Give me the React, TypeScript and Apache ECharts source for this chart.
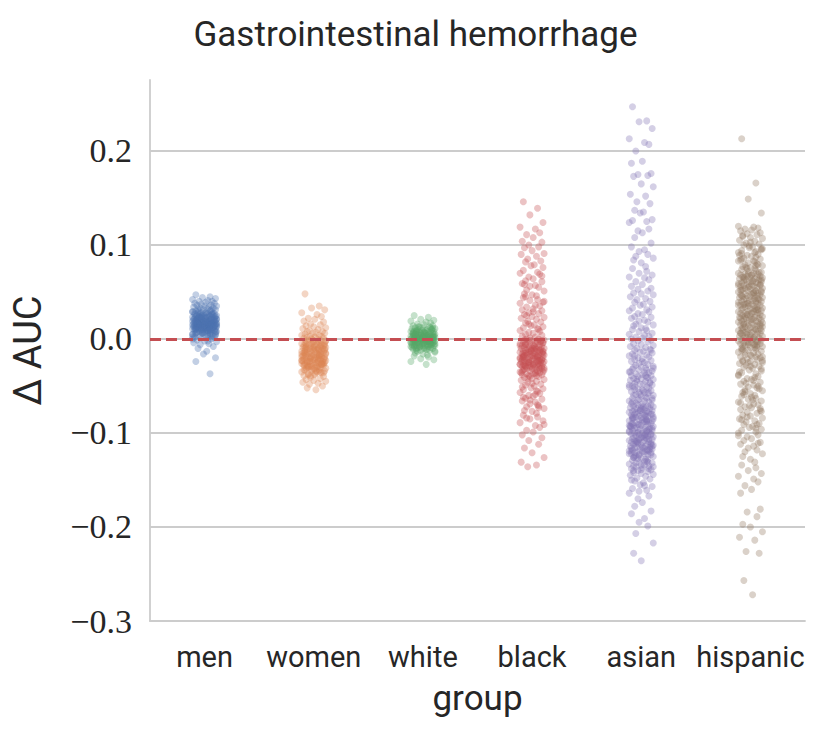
import React, { useEffect, useRef } from "react";
import * as echarts from "echarts";

const TITLE = "Gastrointestinal hemorrhage";
const CATEGORIES = ["men", "women", "white", "black", "asian", "hispanic"];
const COLORS = ["#4C72B0", "#DD8452", "#55A868", "#C44E52", "#8172B3", "#937860"];
const X_NAME = "group";
const Y_NAME = "Δ AUC";
const REFERENCE_VALUE = 0;

// ΔAUC values, in thousandths
const MEN = [47, 45, 44, 43, 42, 41, 40, 40, 39, 38, 38, 37, 36, 36, 35, 35, 34, 34, 33, 33, 32, 32, 31, 31, 30, 30, 29, 29, 28, 28, 28, 27, 27, 27, 26, 26, 26, 25, 25, 25, 25, 24, 24, 24, 24, 23, 23, 23, 23, 22, 22, 22, 22, 21, 21, 21, 21, 21, 20, 20, 20, 20, 20, 19, 19, 19, 19, 19, 18, 18, 18, 18, 18, 17, 17, 17, 17, 17, 16, 16, 16, 16, 16, 16, 15, 15, 15, 15, 15, 15, 14, 14, 14, 14, 14, 13, 13, 13, 13, 13, 12, 12, 12, 12, 12, 11, 11, 11, 11, 10, 10, 10, 10, 9, 9, 9, 9, 8, 8, 8, 7, 7, 7, 6, 6, 6, 5, 5, 4, 4, 3, 3, 2, 2, 1, 0, -1, -2, -3, -4, -5, -6, -8, -10, -13, -16, -20, -24, -37,
  29, 27, 25, 23, 22, 20, 19, 18, 17, 16, 15, 14, 13, 12, 11, 10, 9, 8, 7, 5, 3, 1,
  30, 28, 26, 24, 23, 21, 20, 18, 17, 16, 15, 14, 13, 12, 11, 10, 8, 6, 4, 2, 26, 22, 19, 16, 14, 11, 9, 6, 31, 24, 21, 17, 15, 13, 12, 10, 7, 4, 0, -2];

const WOMEN = [48, 35, 33, 31, 28, 26, 24, 22, 21, 19, 18, 16, 15, 14, 13, 12, 11, 10, 9, 8, 8, 7, 6, 6, 5, 4, 4, 3, 3, 2, 2, 1, 1, 0, 0, -1, -1, -2, -2, -3, -3, -4, -4, -5, -5, -5, -6, -6, -6, -7, -7, -7, -8, -8, -8, -9, -9, -9, -10, -10, -10, -11, -11, -11, -12, -12, -12, -13, -13, -13, -14, -14, -14, -15, -15, -15, -16, -16, -16, -17, -17, -17, -18, -18, -18, -19, -19, -19, -20, -20, -20, -21, -21, -21, -22, -22, -22, -23, -23, -23, -24, -24, -24, -25, -25, -25, -26, -26, -26, -27, -27, -27, -28, -28, -28, -29, -29, -30, -30, -31, -31, -32, -32, -33, -33, -34, -34, -35, -35, -36, -37, -38, -39, -40, -41, -42, -43, -44, -45, -46, -47, -48, -50, -52, -54,
  -4, -7, -10, -13, -16, -18, -20, -22, -24, -26, -28, -30, -32, -35, -38,
  -2, -5, -8, -11, -14, -17, -19, -21, -23, -25, -27, -29, -31, -33, -36, -39, -6, -9, -12, -15, -18, -21, -24, -27, -30, -34, -1, -11, -16, -20, -23, -26, -29, -37];

const WHITE = [25, 23, 21, 20, 19, 18, 17, 16, 15, 14, 14, 13, 13, 12, 12, 11, 11, 10, 10, 10, 9, 9, 9, 8, 8, 8, 8, 7, 7, 7, 7, 6, 6, 6, 6, 5, 5, 5, 5, 5, 4, 4, 4, 4, 4, 3, 3, 3, 3, 3, 3, 2, 2, 2, 2, 2, 2, 1, 1, 1, 1, 1, 1, 0, 0, 0, 0, 0, 0, 0, -1, -1, -1, -1, -1, -1, -2, -2, -2, -2, -2, -2, -3, -3, -3, -3, -3, -3, -4, -4, -4, -4, -4, -5, -5, -5, -5, -5, -6, -6, -6, -6, -7, -7, -7, -7, -8, -8, -8, -9, -9, -9, -10, -10, -11, -11, -12, -12, -13, -14, -15, -16, -17, -18, -19, -21, -22, -24, -27,
  12, 9, 7, 5, 3, 1, -1, -3, -5, -7, -9, -11,
  13, 10, 8, 6, 4, 2, 0, -2, -4, -6, -8, -10, -12, 11, 7, 3, -1, -5, -9, -13, 5, 1, -3, -7];

const BLACK = [146, 139, 132, 124, 119, 117, 113, 111, 108, 104, 103, 100, 98, 97, 94, 91, 90, 88, 85, 83, 82, 79, 78, 76, 73, 71, 70, 69, 66, 64, 62, 61, 59, 57, 56, 55, 52, 51, 48, 47, 46, 44, 42, 41, 39, 38, 36, 35, 34, 32, 31, 30, 28, 27, 26, 24, 23, 22, 21, 19, 18, 17, 15, 14, 13, 12, 11, 9, 8, 7, 6, 5, 4, 3, 2, 1,
  0, 0, -1, -1, -2, -2, -3, -3, -4, -4, -5, -5, -6, -6, -7, -7, -8, -8, -9, -9, -10, -10, -10, -11, -11, -11, -12, -12, -12, -13, -13, -13, -14, -14, -14, -15, -15, -15, -16, -16, -16, -17, -17, -17, -18, -18, -18, -19, -19, -19, -20, -20, -20, -21, -21, -21, -22, -22, -22, -23, -23, -23, -24, -24, -24, -25, -25, -25, -26, -26, -26, -27, -27, -27, -28, -28, -28, -29, -29, -29, -30, -30, -30, -31, -31, -32, -32, -33, -33, -34, -34, -35, -35, -36, -36, -37, -37, -38, -38, -39, -40, -41, -42, -43, -44,
  -45, -46, -48, -49, -50, -52, -53, -54, -56, -57, -58, -60, -61, -63, -64, -66, -67, -69, -71, -72, -74, -76, -77, -79, -81, -83, -85, -87, -89, -92, -94, -97, -99, -102, -105, -108, -112, -116, -121, -126, -131, -134, -136,
  -2, -5, -8, -11, -14, -17, -19, -21, -23, -25, -27, -29, -31, -34, -37, -40, 10, 25, 40, 58, -47, -55, -62, -70,
  -1, -4, -7, -9, -12, -15, -18, -20, -22, -24, -26, -28, -30, -33, -36, -39, -42, -3, -6, -10, -13, -16, -19, -23, -27, -32, 16, 29, 45, 67, -51, -59, -65, -73, -84, -91];

const ASIAN = [247, 232, 231, 224, 213, 209, 207, 200, 189, 187, 176, 175, 174, 173, 165, 162, 154, 152, 146, 144, 137, 135, 134, 127, 126, 125, 124, 117, 115, 113, 108, 102, 98, 95, 93, 90, 88, 86, 84, 81, 77, 75, 72, 70, 68, 66, 65, 63, 61, 58, 56, 54, 53, 51, 49, 48, 47, 45, 43, 42, 40, 39, 37, 36, 34, 33, 31, 30, 29, 27, 26, 24, 23, 22, 20, 19, 18, 16, 15, 14, 12, 11, 10, 9, 8, 6, 5, 4, 3, 2, 1,
  0, -1, -2, -3, -5, -6, -7, -8, -9, -10, -11, -12, -13, -14, -15, -16, -17, -18, -19, -20, -21, -22, -23, -24, -25, -26, -27, -28, -29, -30, -30, -31, -32, -33, -33, -34, -35, -36, -36, -37, -38, -39, -39, -40, -41, -42, -42, -43, -44, -45, -45, -46, -47, -48, -48, -49, -50, -51, -51, -52, -53, -54, -54, -55, -56, -57, -57, -58, -59, -60, -60, -61, -62, -63, -63, -64, -65, -66, -66, -67, -68, -69, -69,
  -70, -70, -71, -71, -72, -72, -73, -73, -74, -74, -75, -75, -76, -76, -77, -77, -78, -78, -79, -79, -80, -80, -81, -81, -82, -82, -83, -83, -84, -84, -85, -85, -86, -86, -87, -87, -88, -88, -89, -89, -90, -90, -91, -91, -92, -92, -93, -93, -94, -94, -95, -95, -96, -96, -97, -97, -98, -98, -99, -99, -100, -100, -101, -101, -102, -102, -103, -103, -104, -104, -105, -105, -106, -106, -107, -107, -108, -108, -109, -109, -110, -110, -111, -111, -112, -112, -113, -113, -114, -114, -115, -115, -116, -116, -117, -117, -118, -118, -119, -119, -120, -120, -121, -121, -122, -122, -123, -123, -124, -125, -126, -127, -128, -129, -130, -131, -132, -133, -134, -135, -136, -137, -138, -139, -140, -141, -142, -143, -144, -145,
  -146, -148, -149, -151, -153, -155, -157, -159, -161, -164, -167, -170, -174, -178, -183, -186, -191, -195, -199, -207, -217, -228, -236,
  -79, -83, -87, -91, -95, -99, -103, -107, -111, -115, -119, -123, -127, -131, -135, -139, -85, -93, -101, -109, -117, -125,
  -72, -76, -80, -84, -88, -92, -96, -100, -104, -108, -112, -116, -120, -124, -128, -132, -136, -140, -74, -82, -90, -98, -106, -114, -122, -130, -138, -78, -86, -94, -102, -110, -118, -126, -134,
  -31, -35, -39, -43, -47, -51, -55, -59, -63, -67, -41, -49, -57, -65, -24, -18, -12, -150, -156, -162];

const HISPANIC = [213, 166, 149, 134, 120, 119, 118, 117, 116, 115, 113, 112, 111, 109, 108, 107, 105, 104, 102, 101, 100, 98, 97, 96, 94, 93, 92, 90, 89, 88, 86, 85, 84, 83, 81, 80, 79, 78, 77, 76, 75, 74, 73, 72, 71,
  70, 70, 69, 69, 68, 68, 67, 67, 66, 66, 65, 65, 64, 64, 63, 63, 62, 62, 61, 61, 60, 60, 59, 59, 58, 58, 57, 57, 56, 56, 55, 55, 54, 54, 53, 53, 52, 52, 51, 51, 50, 50, 49, 49, 48, 48, 47, 47, 46, 46, 45, 45, 44, 44, 43, 43, 42, 42, 41, 41, 40, 40, 39, 39, 38, 38, 37, 37, 36, 36, 35, 35, 34, 34, 33, 33, 32, 32, 31, 31, 30, 30, 29, 29, 28, 28, 27, 27, 26, 26, 25, 25, 24, 24, 23, 23, 22, 22, 21, 21, 20, 20, 19, 19, 18, 18, 17, 17, 16, 16, 15, 15, 14, 14, 13, 13, 12, 12, 11, 11, 10, 10, 9, 9, 8, 8, 7, 7, 6, 6, 5, 5, 4, 4, 3, 3, 2, 2, 1, 1, 0, 0, -1, -1, -2, -2, -3, -3, -4, -4, -5, -5, -6, -6, -7, -7, -8, -8, -9, -9, -10, -11, -12, -13, -14, -15, -16, -17, -18, -19, -20, -21, -22, -23, -24, -25, -26, -27, -28, -29, -30,
  -31, -33, -34, -36, -37, -39, -40, -42, -43, -45, -46, -48, -49, -51, -52, -54, -55, -57, -58, -60, -61, -63, -64, -66, -67, -69, -70, -72, -73, -75, -76, -78, -79, -81, -82, -84, -85, -87, -88, -90, -91, -93, -94, -96, -97, -99, -100, -102, -104, -106, -108, -110, -112, -114, -116, -118, -120, -122, -125,
  -128, -131, -134, -137, -140, -143, -146, -149, -152, -156, -160, -164, -181, -184, -189, -197, -200, -205, -211, -214, -226, -228, -257, -272,
  99, 95, 91, 87, 83, 79, 75, 68, 64, 58, 52, 46, 38, 31, 24, 17, 9, 2, -6, -12, -19, -25, -32, -38, -44, -50, -56, -62, -68, -74, -83, -91,
  110, 103, 96, 89, 82, 76, 71, 66, 61, 56, 51, 46, 41, 36, 31, 26, 21, 16, 11, 6, 1, -4, -9, -14, -19, -24, -29, 92, 85, 78, 69, 63, 57, 49, 43, 37, 28, 22, 14, 7, -3, -11, -17, -23, -35, -41, -47, -53, -59, -65, -71, -77, -86, -95, -103, -111];

const GROUP_VALUES = [MEN, WOMEN, WHITE, BLACK, ASIAN, HISPANIC];

// horizontal strip jitter, in category widths
const JITTER = [-0.08, 0.05, -0.02, 0.10, -0.11, 0.03, 0.07, -0.05, 0.01, -0.09, 0.09, -0.03, 0.06, -0.07, 0.00, 0.11, -0.10, 0.04, -0.04, 0.08, -0.06, 0.02, -0.01, 0.10, -0.08, 0.05, -0.11, 0.07, -0.03, 0.01, -0.06, 0.09, -0.09, 0.03, -0.02, 0.06, -0.05, 0.11, -0.07, 0.00, 0.04];

const Y_MIN = -0.3;
const Y_MAX = 0.2755;
const Y_STEP = 0.1;

const TEXT = "#262626";
const GRID = "#cccccc";

export default function App() {
  const ref = useRef<HTMLDivElement>(null);
  useEffect(() => {
    if (!ref.current) return;
    const chart = echarts.init(ref.current, undefined, { renderer: "svg" });
    const scatterSeries = GROUP_VALUES.map((vals, gi) => ({
      type: "scatter",
      name: CATEGORIES[gi],
      xAxisIndex: 1,
      data: vals.map((v, i) => [gi + JITTER[i % JITTER.length], v / 1000]),
      symbol: "circle",
      symbolSize: 7,
      itemStyle: { color: COLORS[gi], opacity: 0.34 },
      silent: true,
      emphasis: { disabled: true },
      z: 2,
    }));
    const option = {
      animation: false,
      title: {
        text: TITLE,
        left: "center",
        top: 12,
        textStyle: { fontFamily: "Roboto", fontSize: 35, fontWeight: "normal", color: TEXT },
      },
      grid: { left: 150, right: 26, top: 80, bottom: 113 },
      xAxis: [
        {
          type: "category",
          data: CATEGORIES,
          boundaryGap: true,
          axisLine: { show: true, onZero: false, lineStyle: { color: GRID, width: 1.8 } },
          axisTick: { show: false },
          splitLine: { show: false },
          axisLabel: { interval: 0, fontFamily: "Roboto", fontSize: 29, color: TEXT, margin: 21 },
          name: X_NAME,
          nameLocation: "middle",
          nameGap: 60,
          nameTextStyle: { fontFamily: "Roboto", fontSize: 35, color: TEXT },
        },
        { type: "value", min: -0.5, max: 5.5, show: false, splitLine: { show: false }, axisLine: { onZero: false } },
      ],
      yAxis: {
        type: "value",
        min: Y_MIN,
        max: Y_MAX,
        interval: Y_STEP,
        axisLine: { show: true, onZero: false, lineStyle: { color: GRID, width: 1.8 } },
        axisTick: { show: false },
        splitLine: { show: true, showMaxLine: false, showMinLine: false, lineStyle: { color: GRID, width: 1.8 } },
        axisLabel: {
          fontFamily: "Liberation Serif",
          fontSize: 34,
          color: TEXT,
          margin: 18,
          showMaxLabel: false,
          formatter: (v: number) => {
            const k = v / Y_STEP;
            if (Math.abs(k - Math.round(k)) > 1e-6) return "";
            const r = Math.round(k) / 10;
            return (r < 0 ? "\u2212" : "") + Math.abs(r).toFixed(1);
          },
        },
        name: Y_NAME,
        nameLocation: "middle",
        nameGap: 103,
        nameTextStyle: { fontFamily: "Roboto", fontSize: 38, color: TEXT },
      },
      series: [
        ...scatterSeries,
        {
          type: "scatter",
          xAxisIndex: 1,
          data: [],
          z: 5,
          silent: true,
          markLine: {
            silent: true,
            symbol: ["none", "none"],
            label: { show: false },
            lineStyle: { color: "#C44E52", width: 3, type: [11, 5], opacity: 1 },
            data: [{ yAxis: REFERENCE_VALUE }],
          },
        },
      ],
    };
    chart.setOption(option as any);
    return () => chart.dispose();
  }, []);
  return (
    <div
      ref={ref}
      style={{ position: "absolute", left: 0, top: 0, width: 831, height: 734, background: "#fff" }}
    />
  );
}
